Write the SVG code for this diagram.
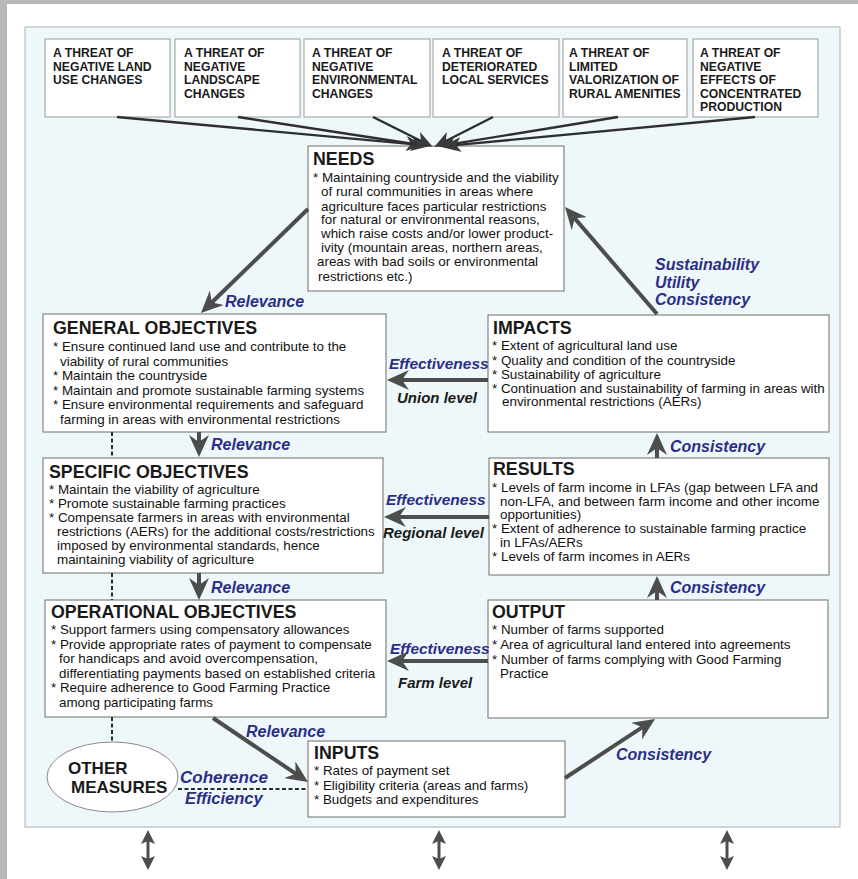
<svg xmlns="http://www.w3.org/2000/svg" width="858" height="879" viewBox="0 0 858 879">
<defs>
<style>
.frame{fill:#b9b9b9}
.panel{fill:#eef8fb;stroke:#a9b1b4;stroke-width:1}
.tbox{fill:#ffffff;stroke:#9a9a9a;stroke-width:1}
.box{fill:#ffffff;stroke:#6d6d6d;stroke-width:1}
.tt{font-family:"Liberation Sans",Arial,sans-serif;font-weight:bold;font-size:12.2px;fill:#1a1a1a}
.title{font-family:"Liberation Sans",Arial,sans-serif;font-weight:bold;font-size:17.8px;fill:#1a1a1a}
.body{font-family:"Liberation Sans",Arial,sans-serif;font-size:13.4px;fill:#111}
.lbl{font-family:"Liberation Sans",Arial,sans-serif;font-weight:bold;font-style:italic;font-size:15.5px;fill:#2c2e86}
.lvl{font-family:"Liberation Sans",Arial,sans-serif;font-weight:bold;font-style:italic;font-size:15px;fill:#1a1a1a}
.om{font-family:"Liberation Sans",Arial,sans-serif;font-weight:bold;font-size:17px;fill:#1a1a1a}
.thr{stroke:#2f2f2f;stroke-width:2.4;fill:none;marker-end:url(#ahs)}
.arr{stroke:#4d4d4d;stroke-width:4;fill:none;marker-end:url(#ah)}
.dash{stroke:#2a2a2a;stroke-width:2;stroke-dasharray:4 2.5;fill:none}
.dbl{stroke:#4d4d4d;stroke-width:3;fill:none;marker-start:url(#dh);marker-end:url(#dh)}
</style>
<marker id="ah" viewBox="0 0 22 20" markerWidth="22" markerHeight="20" refX="8" refY="10" orient="auto" markerUnits="userSpaceOnUse">
<path d="M0,0 L22,10 L0,20 L7,10 z" fill="#4d4d4d"/>
</marker>
<marker id="ahs" viewBox="0 0 18 15" markerWidth="18" markerHeight="15" refX="6" refY="7.5" orient="auto" markerUnits="userSpaceOnUse">
<path d="M0,0 L18,7.5 L0,15 L5,7.5 z" fill="#3a3a3a"/>
</marker>
<marker id="dh" viewBox="0 0 14 14" markerWidth="14" markerHeight="14" refX="4" refY="7" orient="auto-start-reverse" markerUnits="userSpaceOnUse">
<path d="M0,0 L14,7 L0,14 L3,7 z" fill="#4d4d4d"/>
</marker>
</defs>

<rect x="0" y="0" width="858" height="879" fill="#ffffff"/>
<rect class="frame" x="0" y="0" width="858" height="4"/>
<rect class="frame" x="0" y="0" width="7" height="879"/>
<rect class="panel" x="25" y="27" width="815" height="800"/>

<g id="threat1"><rect class="tbox" x="45" y="39" width="125" height="78"/>
<text class="tt" x="53" y="57">A THREAT OF</text><text class="tt" x="53" y="70.5">NEGATIVE LAND</text><text class="tt" x="53" y="84">USE CHANGES</text></g>
<g id="threat2"><rect class="tbox" x="175" y="39" width="125" height="78"/>
<text class="tt" x="184" y="57">A THREAT OF</text><text class="tt" x="184" y="70.5">NEGATIVE</text><text class="tt" x="184" y="84">LANDSCAPE</text><text class="tt" x="184" y="97.5">CHANGES</text></g>
<g id="threat3"><rect class="tbox" x="304" y="39" width="126" height="78"/>
<text class="tt" x="312" y="57">A THREAT OF</text><text class="tt" x="312" y="70.5">NEGATIVE</text><text class="tt" x="312" y="84">ENVIRONMENTAL</text><text class="tt" x="312" y="97.5">CHANGES</text></g>
<g id="threat4"><rect class="tbox" x="433" y="39" width="126" height="78"/>
<text class="tt" x="442" y="57">A THREAT OF</text><text class="tt" x="442" y="70.5">DETERIORATED</text><text class="tt" x="442" y="84">LOCAL SERVICES</text></g>
<g id="threat5"><rect class="tbox" x="563" y="39" width="124" height="78"/>
<text class="tt" x="569" y="57">A THREAT OF</text><text class="tt" x="569" y="70.5">LIMITED</text><text class="tt" x="569" y="84">VALORIZATION OF</text><text class="tt" x="569" y="97.5">RURAL AMENITIES</text></g>
<g id="threat6"><rect class="tbox" x="693" y="39" width="125" height="78"/>
<text class="tt" x="700" y="57">A THREAT OF</text><text class="tt" x="700" y="70.5">NEGATIVE</text><text class="tt" x="700" y="84">EFFECTS OF</text><text class="tt" x="700" y="97.5">CONCENTRATED</text><text class="tt" x="700" y="111">PRODUCTION</text></g>

<g id="needs"><rect class="box" x="308" y="146" width="256" height="145"/>
<text class="title" x="313" y="165">NEEDS</text>
<text class="body" x="313" y="182">* Maintaining countryside and the viability</text>
<text class="body" x="321" y="196">of rural communities in areas where</text>
<text class="body" x="321" y="210.5">agriculture faces particular restrictions</text>
<text class="body" x="321" y="224">for natural or environmental reasons,</text>
<text class="body" x="321" y="238">which raise costs and/or lower product-</text>
<text class="body" x="321" y="252">ivity (mountain areas, northern areas,</text>
<text class="body" x="317" y="266">areas with bad soils or environmental</text>
<text class="body" x="318" y="281">restrictions etc.)</text></g>

<g id="general"><rect class="box" x="43" y="314" width="343" height="118"/>
<text class="title" x="53" y="334">GENERAL OBJECTIVES</text>
<text class="body" x="53" y="351">* Ensure continued land use and contribute to the</text>
<text class="body" x="60" y="366">viability of rural communities</text>
<text class="body" x="53" y="380">* Maintain the countryside</text>
<text class="body" x="53" y="394.5">* Maintain and promote sustainable farming systems</text>
<text class="body" x="53" y="409">* Ensure environmental requirements and safeguard</text>
<text class="body" x="60" y="423.5">farming in areas with environmental restrictions</text></g>

<g id="impacts"><rect class="box" x="488" y="315" width="341" height="117"/>
<text class="title" x="493" y="333.5">IMPACTS</text>
<text class="body" x="492" y="350">* Extent of agricultural land use</text>
<text class="body" x="492" y="364.5">* Quality and condition of the countryside</text>
<text class="body" x="492" y="378.5">* Sustainability of agriculture</text>
<text class="body" x="492" y="392.5">* Continuation and sustainability of farming in areas with</text>
<text class="body" x="502" y="406">environmental restrictions (AERs)</text></g>

<g id="specific"><rect class="box" x="43" y="458" width="340" height="115"/>
<text class="title" x="49" y="477.5">SPECIFIC OBJECTIVES</text>
<text class="body" x="49" y="494">* Maintain the viability of agriculture</text>
<text class="body" x="49" y="508">* Promote sustainable farming practices</text>
<text class="body" x="49" y="522">* Compensate farmers in areas with environmental</text>
<text class="body" x="57" y="536">restrictions (AERs) for the additional costs/restrictions</text>
<text class="body" x="57" y="550">imposed by environmental standards, hence</text>
<text class="body" x="57" y="564">maintaining viability of agriculture</text></g>

<g id="results"><rect class="box" x="489" y="458" width="340" height="117"/>
<text class="title" x="493" y="475">RESULTS</text>
<text class="body" x="492" y="491.5">* Levels of farm income in LFAs (gap between LFA and</text>
<text class="body" x="500" y="505.5">non-LFA, and between farm income and other income</text>
<text class="body" x="500" y="519">opportunities)</text>
<text class="body" x="492" y="533">* Extent of adherence to sustainable farming practice</text>
<text class="body" x="500" y="547">in LFAs/AERs</text>
<text class="body" x="492" y="561">* Levels of farm incomes in AERs</text></g>

<g id="operational"><rect class="box" x="45" y="600" width="341" height="117"/>
<text class="title" x="51" y="617.5">OPERATIONAL OBJECTIVES</text>
<text class="body" x="51" y="634">* Support farmers using compensatory allowances</text>
<text class="body" x="51" y="649">* Provide appropriate rates of payment to compensate</text>
<text class="body" x="59" y="663">for handicaps and avoid overcompensation,</text>
<text class="body" x="59" y="678">differentiating payments based on established criteria</text>
<text class="body" x="51" y="692">* Require adherence to Good Farming Practice</text>
<text class="body" x="59" y="707">among participating farms</text></g>

<g id="output"><rect class="box" x="488" y="600" width="340" height="118"/>
<text class="title" x="492" y="617.5">OUTPUT</text>
<text class="body" x="492" y="634">* Number of farms supported</text>
<text class="body" x="492" y="649">* Area of agricultural land entered into agreements</text>
<text class="body" x="492" y="664">* Number of farms complying with Good Farming</text>
<text class="body" x="500" y="678">Practice</text></g>

<g id="inputs"><rect class="box" x="308" y="741" width="257" height="76"/>
<text class="title" x="314" y="758.5">INPUTS</text>
<text class="body" x="314" y="775">* Rates of payment set</text>
<text class="body" x="314" y="790">* Eligibility criteria (areas and farms)</text>
<text class="body" x="314" y="804">* Budgets and expenditures</text></g>

<g id="other-measures"><ellipse cx="112.5" cy="777" rx="65.5" ry="35" fill="#ffffff" stroke="#8a8a8a" stroke-width="1"/>
<text class="om" x="68" y="774">OTHER</text>
<text class="om" x="71" y="793">MEASURES</text></g>

<g id="connectors">
<path class="thr" d="M117,117 L412,144.1"/>
<path class="thr" d="M238,117 L417.1,144.5"/>
<path class="thr" d="M373,117 L422,141.5"/>
<path class="thr" d="M493,117 L444.9,141.5"/>
<path class="thr" d="M618,117 L449.9,144.4"/>
<path class="thr" d="M755,117 L455,145.1"/>

<path class="arr" d="M308,209 L211,303.3"/>
<path class="arr" d="M657,314 L574.1,217.6"/>

<path class="arr" d="M488,380 L401,380"/>
<path class="arr" d="M489,517 L398,517"/>
<path class="arr" d="M488,661 L401,661"/>

<path class="arr" d="M199,432 L199,443"/>
<path class="arr" d="M199,573 L199,586"/>
<path class="arr" d="M657,458 L657,447"/>
<path class="arr" d="M657,600 L657,590"/>

<path class="arr" d="M213,718 L296.4,774.2"/>
<path class="arr" d="M565,778 L643.3,726.7"/>

<path class="dash" d="M112,432 L112,458"/>
<path class="dash" d="M112,573 L112,600"/>
<path class="dash" d="M112,717 L112,742"/>
<path class="dash" d="M178,789 L308,789"/>

<path class="dbl" d="M148,840 L148,860"/>
<path class="dbl" d="M439,840 L439,860"/>
<path class="dbl" d="M727,840 L727,860"/>
</g>

<g id="labels">
<text class="lbl" x="225" y="307" style="font-size:16px">Relevance</text>
<text class="lbl" x="655" y="270" style="font-size:16px">Sustainability</text>
<text class="lbl" x="655" y="288" style="font-size:16px">Utility</text>
<text class="lbl" x="655" y="305" style="font-size:16px">Consistency</text>
<text class="lbl" x="389" y="369">Effectiveness</text>
<text class="lvl" x="397" y="403">Union level</text>
<text class="lbl" x="211" y="450" style="font-size:16px">Relevance</text>
<text class="lbl" x="670" y="452" style="font-size:16px">Consistency</text>
<text class="lbl" x="386" y="505">Effectiveness</text>
<text class="lvl" x="383" y="538">Regional level</text>
<text class="lbl" x="211" y="593" style="font-size:16px">Relevance</text>
<text class="lbl" x="670" y="593" style="font-size:16px">Consistency</text>
<text class="lbl" x="390" y="654">Effectiveness</text>
<text class="lvl" x="398" y="688">Farm level</text>
<text class="lbl" x="246" y="737" style="font-size:16px">Relevance</text>
<text class="lbl" x="616" y="760" style="font-size:16px">Consistency</text>
<text class="lbl" x="180" y="783" style="font-size:17px">Coherence</text>
<text class="lbl" x="185" y="804" style="font-size:16.5px">Efficiency</text>
</g>
</svg>
